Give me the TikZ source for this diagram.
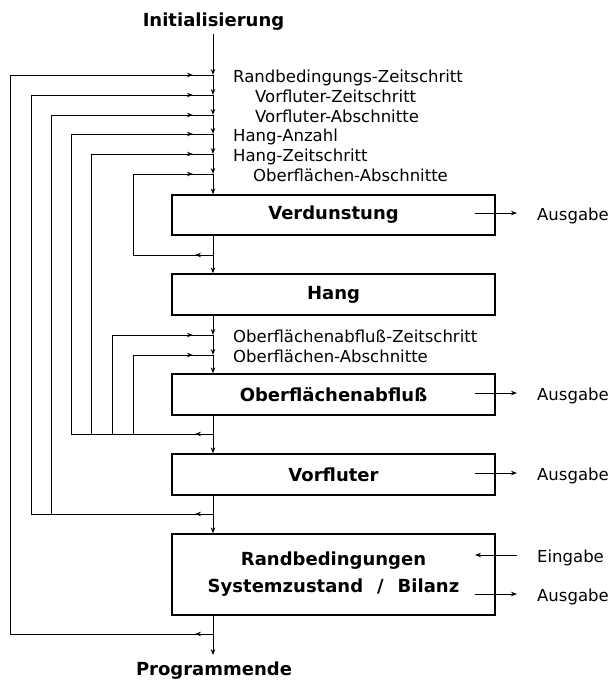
\documentclass[tikz,border=0pt]{standalone}
\usepackage{fontspec}
\setmainfont{DejaVu Sans}
\usetikzlibrary{arrows.meta,decorations.markings}
\tikzset{
  flow/.style={line width=1pt},
  tip/.style={-{Stealth[length=6pt,width=4.5pt]}},
  box/.style={draw, line width=1.3pt, minimum width=323pt, minimum height=40pt, inner sep=0pt,
              font=\fontsize{18}{27}\selectfont\bfseries, align=center},
  lbl/.style={anchor=base west, inner sep=0pt, font=\fontsize{16.5}{20}\selectfont},
  head/.style={anchor=base, inner sep=0pt, font=\fontsize{18}{20}\selectfont\bfseries},
  inmark/.style={postaction={decorate, decoration={markings,
      mark=at position -20pt with {\arrow{Stealth[length=6pt,width=4.5pt]}}}}},
  outmark/.style={postaction={decorate, decoration={markings,
      mark=at position 18pt with {\arrow{Stealth[length=6pt,width=4.5pt]}}}}},
}
\begin{document}
\begin{tikzpicture}[x=1pt,y=-1pt]
\useasboundingbox (0,0) rectangle (611,681);

% head and end
\node[head] (init) at (213.5,26) {Initialisierung};
\node[head] (prog) at (214,675) {Programmende};

% boxes
\node[box] (verd) at (333.5,215) {Verdunstung};
\node[box, minimum height=41pt] (hang) at (333.5,294.5) {Hang};
\node[box, minimum height=41pt] (ober) at (333.5,394.5) {Oberflächenabfluß};
\node[box, minimum height=41pt] (vorf) at (333.5,474.5) {Vorfluter};
\node[box, minimum height=81pt] (rand) at (333.5,574.5) {Randbedingungen\\Systemzustand\hspace{14pt}/\hspace{14pt}Bilanz};

% spine junctions
\coordinate (j1) at (213,75);
\coordinate (j2) at (213,95);
\coordinate (j3) at (213,115);
\coordinate (j4) at (213,134);
\coordinate (j5) at (213,154);
\coordinate (j6) at (213,174);
\coordinate (r1) at (213,255);
\coordinate (j7) at (213,335);
\coordinate (j8) at (213,355);
\coordinate (r2) at (213,434);
\coordinate (r3) at (213,514);
\coordinate (r4) at (213,634);

% spine
\draw[flow,tip,shorten <=4pt] (init.south -| j1) -- (j1);
\draw[flow,tip] (j1) -- (j2);
\draw[flow,tip] (j2) -- (j3);
\draw[flow,tip] (j3) -- (j4);
\draw[flow,tip] (j4) -- (j5);
\draw[flow,tip] (j5) -- (j6);
\draw[flow,tip] (j6) -- (j6 |- verd.north);
\draw[flow] (r1 |- verd.south) -- (r1);
\draw[flow,tip] (r1) -- (r1 |- hang.north);
\draw[flow,tip] (j7 |- hang.south) -- (j7);
\draw[flow,tip] (j7) -- (j8);
\draw[flow,tip] (j8) -- (j8 |- ober.north);
\draw[flow] (r2 |- ober.south) -- (r2);
\draw[flow,tip] (r2) -- (r2 |- vorf.north);
\draw[flow] (r3 |- vorf.south) -- (r3);
\draw[flow,tip] (r3) -- (r3 |- rand.north);
\draw[flow] (r4 |- rand.south) -- (r4);
\draw[flow,tip,shorten >=6pt] (r4) -- (r4 |- prog.north);

% feedback loops
\draw[flow,outmark,inmark] (r4) -- (10,634) -- (10,75) -- (j1);
\draw[flow,outmark,inmark] (r3) -- (31,514) -- (31,95) -- (j2);
\draw[flow,inmark] (51,514) -- (51,115) -- (j3);
\draw[flow,outmark,inmark] (r2) -- (71,434) -- (71,134) -- (j4);
\draw[flow,inmark] (91,434) -- (91,154) -- (j5);
\draw[flow,inmark] (112,434) -- (112,335) -- (j7);
\draw[flow,inmark] (133,434) -- (133,355) -- (j8);
\draw[flow,outmark,inmark] (r1) -- (133,255) -- (133,174) -- (j6);

% labels on the spine
\node[lbl] (l1) at (233,82) {Randbedingungs-Zeitschritt};
\node[lbl] (l2) at (255,102) {Vorfluter-Zeitschritt};
\node[lbl] (l3) at (255,122) {Vorfluter-Abschnitte};
\node[lbl] (l4) at (233,141) {Hang-Anzahl};
\node[lbl] (l5) at (233,161) {Hang-Zeitschritt};
\node[lbl] (l6) at (253,181) {Oberflächen-Abschnitte};
\node[lbl] (l7) at (233,342) {Oberflächenabfluß-Zeitschritt};
\node[lbl] (l8) at (233,362) {Oberflächen-Abschnitte};

% inputs and outputs
\coordinate (a1s) at (475,213); \coordinate (a1e) at (517,213);
\coordinate (a2s) at (475,393); \coordinate (a2e) at (517,393);
\coordinate (a3s) at (475,473); \coordinate (a3e) at (517,473);
\coordinate (e4s) at (517,555); \coordinate (e4e) at (475,555);
\coordinate (a5s) at (475,594); \coordinate (a5e) at (517,594);
\draw[flow,tip] (a1s) -- (a1e);
\draw[flow,tip] (a2s) -- (a2e);
\draw[flow,tip] (a3s) -- (a3e);
\draw[flow,tip] (e4s) -- (e4e);
\draw[flow,tip] (a5s) -- (a5e);
\node[lbl] (o1) at (537,220) {Ausgabe};
\node[lbl] (o2) at (537,400) {Ausgabe};
\node[lbl] (o3) at (537,480) {Ausgabe};
\node[lbl] (i4) at (537,562) {Eingabe};
\node[lbl] (o5) at (537,601) {Ausgabe};
\end{tikzpicture}
\end{document}
